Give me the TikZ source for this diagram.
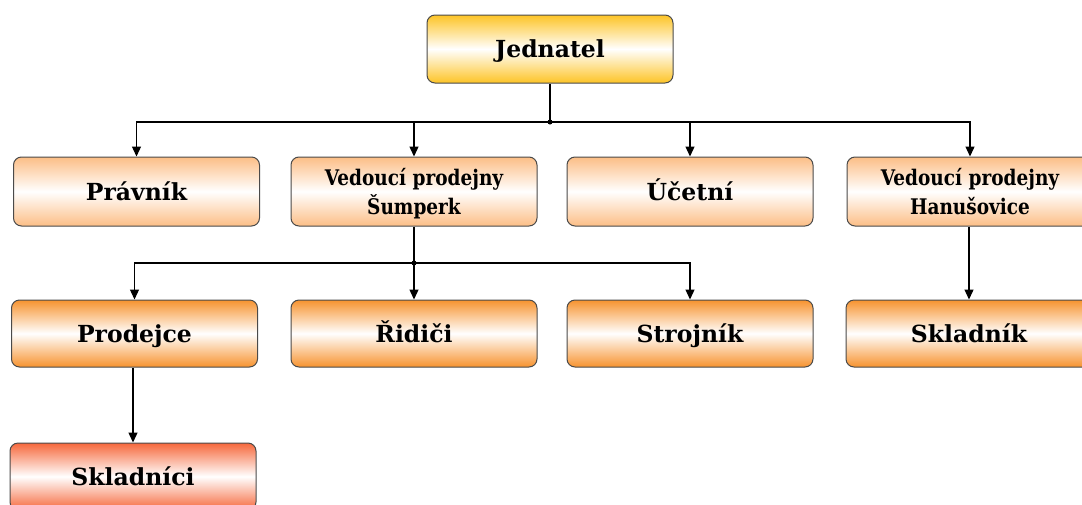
\documentclass[tikz,border=0pt]{standalone}
\usepackage{fontspec}
\setmainfont{DejaVu Serif}
\newfontfamily\narrowfont[FakeStretch=0.86]{DejaVu Serif}
\usetikzlibrary{arrows.meta}
\definecolor{cgold}{HTML}{FDC426}
\definecolor{cpeach}{HTML}{FCBE86}
\definecolor{corange}{HTML}{F7932F}
\definecolor{cred}{HTML}{F6683C}
\definecolor{cborder}{HTML}{4A4A4A}
\tikzset{
  orgbox/.style={rectangle, rounded corners=8pt, draw=cborder, line width=1pt,
    minimum width=246pt, inner sep=0pt, align=center,
    text height=20pt, text depth=3pt,
    font=\fontsize{23.5}{29}\selectfont\bfseries},
  boxshade/.style={top color=#1, bottom color=#1, middle color=white},
  twoline/.style={font=\narrowfont\fontsize{21.5}{29}\selectfont\bfseries,
    text height=47pt, text depth=2pt},
  conn/.style={line width=1.3pt, draw=black},
  arr/.style={conn, -{Triangle[length=10pt,width=9pt]}},
  busdot/.style={circle, fill=black, inner sep=0pt, minimum size=5pt}
}
\begin{document}
\begin{tikzpicture}[x=1pt,y=1pt]
\useasboundingbox (0,0) rectangle (1082,-504);
\clip (0,0) rectangle (1082,-504);
% top
\node[orgbox, boxshade=cgold, minimum height=68pt] (jed) at (550,-49) {Jednatel};
% row 1
\node[orgbox, boxshade=cpeach, minimum height=69pt] (prav) at (136.5,-191.5) {Právník};
\node[orgbox, boxshade=cpeach, minimum height=69pt, twoline] (vsum) at (414,-191.5) {Vedoucí prodejny\\Šumperk};
\node[orgbox, boxshade=cpeach, minimum height=69pt] (uce) at (690,-191.5) {Účetní};
\node[orgbox, boxshade=cpeach, minimum height=69pt, twoline] (vhan) at (970,-191.5) {Vedoucí prodejny\\Hanušovice};
% row 2
\node[orgbox, boxshade=corange, minimum height=67pt] (prod) at (134.5,-333.5) {Prodejce};
\node[orgbox, boxshade=corange, minimum height=67pt] (rid) at (414,-333.5) {Řidiči};
\node[orgbox, boxshade=corange, minimum height=67pt] (stroj) at (690,-333.5) {Strojník};
\node[orgbox, boxshade=corange, minimum height=67pt] (sklk) at (969,-333.5) {Skladník};
% row 3
\node[orgbox, boxshade=cred, minimum height=67pt] (sklc) at (133,-476.5) {Skladníci};
% buses
\coordinate (bus1) at (550,-122);
\coordinate (bus2) at (414,-263);
\draw[conn] (jed.south) -- (bus1);
\draw[arr] (bus1) -| (prav.north);
\draw[arr] (bus1) -| (vsum.north);
\draw[arr] (bus1) -| (uce.north);
\draw[arr] (bus1) -| (vhan.north);
\node[busdot] (d1) at (bus1) {};
\draw[conn] (vsum.south) -- (bus2);
\draw[arr] (bus2) -| (prod.north);
\draw[arr] (bus2) -- (rid.north);
\draw[arr] (bus2) -| (stroj.north);
\node[busdot] (d2) at (bus2) {};
\draw[arr] (vhan.south -| sklk.north) -- (sklk.north);
\draw[arr] (prod.south -| sklc.north) -- (sklc.north);
\end{tikzpicture}
\end{document}
